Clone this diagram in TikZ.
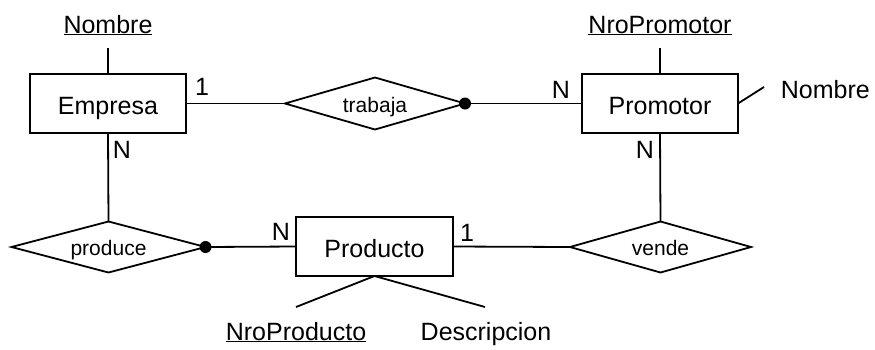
\documentclass[tikz,border=0pt]{standalone}
\usepackage{fontspec}
\setmainfont{Liberation Sans}
\usetikzlibrary{shapes.geometric}
\begin{document}
\begin{tikzpicture}[x=1pt,y=-1pt,line width=1.8pt,
  entity/.style={draw,rectangle,inner sep=0pt,outer sep=0pt,minimum width=156pt,minimum height=59pt,
    font=\fontsize{25}{30}\selectfont,text height=22pt,text depth=0pt},
  relation/.style={draw,diamond,aspect=3.5,inner sep=0pt,outer sep=0pt,minimum width=181pt,minimum height=51pt,
    font=\fontsize{21}{25}\selectfont,text height=17pt,text depth=0pt},
  attr/.style={inner sep=0pt,font=\fontsize{25}{30}\selectfont},
  card/.style={inner sep=0pt,font=\fontsize{25}{30}\selectfont},
  dot/.style={circle,fill=black,inner sep=0pt,minimum size=12pt}]
\useasboundingbox (0,0) rectangle (875,349);
% entities
\node[entity] (emp) at (108,103.5) {Empresa};
\node[entity] (pro) at (660,103.5) {Promotor};
\node[entity,minimum width=157pt] (prd) at (374.5,246.5) {Producto};
% relations
\node[relation,minimum width=180pt,minimum height=52pt] (trab) at (375,103.5) {trabaja};
\node[relation,minimum width=194pt] (prod) at (108.5,247) {produce};
\node[relation] (vend) at (660.5,247) {vende};
% attributes
\node[attr,anchor=base] (aNom) at (108,33) {\underline{Nombre}};
\node[attr,anchor=base] (aNroP) at (660,33) {\underline{NroPromotor}};
\node[attr,anchor=base west] (aNom2) at (780,98) {Nombre};
\node[attr,anchor=base] (aNroPr) at (296,340) {\underline{NroProducto}};
\node[attr,anchor=base] (aDesc) at (486,340) {Descripcion};
\coordinate (cNom) at (108,48);
\coordinate (cNroP) at (660,48);
\coordinate (cNom2) at (764,87);
\coordinate (cNroPr) at (296,307);
\coordinate (cDesc) at (485,307);
\draw (cNom) -- (emp.north);
\draw (cNroP) -- (pro.north);
\draw (pro.east) -- (cNom2);
\draw (prd.south) -- (cNroPr);
\draw (prd.south) -- (cDesc);
% connectors
\draw (emp.east) -- (trab.west);
\draw (trab.east) -- (pro.west);
\draw (emp.south) -- (prod.north);
\draw (prod.east) -- (prd.west);
\draw (prd.east) -- (vend.west);
\draw (pro.south) -- (vend.north);
\node[dot] (d1) at (trab.east) {};
\node[dot] (d2) at (prod.east) {};
% cardinalities
\node[card] (c1) at (202,87) {1};
\node[card] (c2) at (561,90) {N};
\node[card] (c3) at (122,150) {N};
\node[card] (c4) at (645,150) {N};
\node[card] (c5) at (281,232) {N};
\node[card] (c6) at (467,233) {1};
\end{tikzpicture}
\end{document}
